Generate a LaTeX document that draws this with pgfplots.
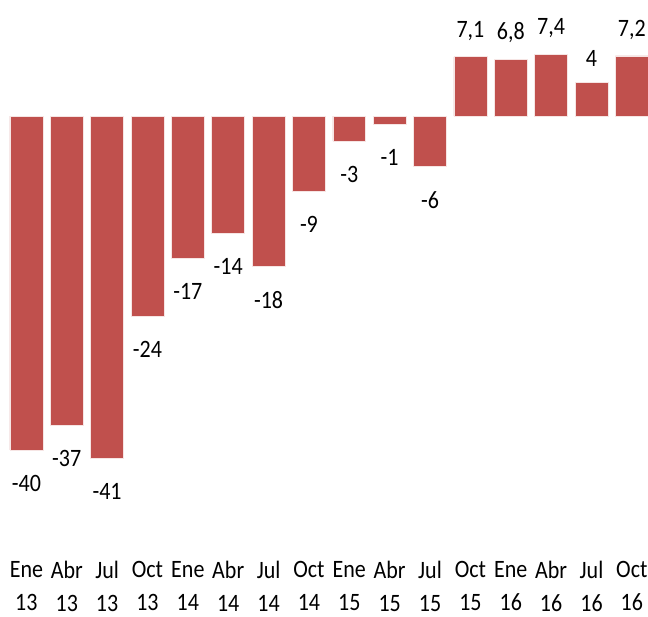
\documentclass[border=0pt]{standalone}
\usepackage{pgfplots}
\pgfplotsset{compat=1.18}
\usepackage{pgfplotstable}
\usepackage{fontspec}
\setmainfont{Carlito}[FakeStretch=0.88]
\definecolor{barred}{HTML}{C0504D}
\pgfplotstableread{
x y label
0 -40 -40
1 -37 -37
2 -41 -41
3 -24 -24
4 -17 -17
5 -14 -14
6 -18 -18
7 -9 -9
8 -3 -3
9 -1 -1
10 -6 -6
}\negtable
\pgfplotstableread{
x y label
11 7.1 7,1
12 6.8 6,8
13 7.4 7,4
14 4 4
15 7.2 7,2
}\postable
\begin{document}
\begin{tikzpicture}
\begin{axis}[
  at={(0,0)}, anchor=north west,
  scale only axis,
  width=648pt, height=540pt,
  xmin=-0.654, xmax=15.40,
  ymin=-50.8, ymax=13.9,
  axis line style={draw=none},
  major tick length=0pt,
  ytick=\empty,
  xtick={0,...,15},
  xticklabels={Ene\\13,Abr\\13,Jul\\13,Oct\\13,Ene\\14,Abr\\14,Jul\\14,Oct\\14,Ene\\15,Abr\\15,Jul\\15,Oct\\15,Ene\\16,Abr\\16,Jul\\16,Oct\\16},
  xticklabel style={align=center, font=\fontsize{25}{33}\selectfont, anchor=north, inner sep=0pt, yshift=-21pt},
  clip=false,
  ybar,
  bar width=0.815,
  bar shift=0pt,
  nodes near coords,
  point meta=explicit symbolic,
]
\addplot[fill=barred, draw=white!85!barred, line width=0.6pt,
  every node near coord/.append style={font=\fontsize{25}{28}\selectfont, inner sep=0pt, anchor=north, yshift=-25pt, text=black}]
  table[x=x, y=y, meta=label] {\negtable};
\addplot[fill=barred, draw=white!85!barred, line width=0.6pt,
  every node near coord/.append style={font=\fontsize{25}{28}\selectfont, inner sep=0pt, anchor=south, yshift=16pt, text=black}]
  table[x=x, y=y, meta=label] {\postable};
\end{axis}
\pgfresetboundingbox
\useasboundingbox (0,0) rectangle (648pt,-617pt);
\end{tikzpicture}
\end{document}
